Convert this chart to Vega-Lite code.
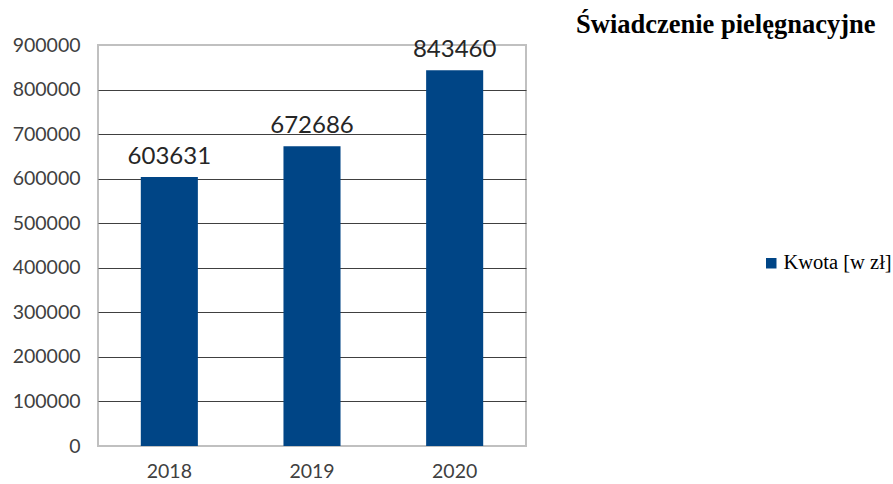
{
  "$schema": "https://vega.github.io/schema/vega-lite/v6.json",
  "width": 428,
  "height": 401,
  "autosize": {"type": "none"},
  "padding": {"left": 98, "top": 45, "right": 367, "bottom": 38},
  "background": "white",
  "config": {
    "view": {"stroke": "#c0c0c0", "strokeWidth": 2},
    "axis": {"labelFont": "Lato", "labelColor": "#404040", "ticks": false, "domain": false, "title": null}
  },
  "title": {
    "text": "Świadczenie pielęgnacyjne",
    "anchor": "start",
    "frame": "group",
    "dx": 478,
    "dy": 11,
    "offset": 8,
    "font": "Liberation Serif",
    "fontSize": 26.5,
    "fontWeight": "bold",
    "color": "black"
  },
  "data": {
    "values": [
      {"rok": "2018", "kwota": 603631, "seria": "Kwota [w zł]"},
      {"rok": "2019", "kwota": 672686, "seria": "Kwota [w zł]"},
      {"rok": "2020", "kwota": 843460, "seria": "Kwota [w zł]"}
    ]
  },
  "encoding": {
    "x": {
      "field": "rok",
      "type": "nominal",
      "scale": {"paddingInner": 0.6, "paddingOuter": 0.3},
      "axis": {"labelAngle": 0, "labelFontSize": 19.5, "labelPadding": 16}
    },
    "y": {
      "field": "kwota",
      "type": "quantitative",
      "scale": {"domain": [0, 900000], "nice": false},
      "axis": {
        "values": [0, 100000, 200000, 300000, 400000, 500000, 600000, 700000, 800000, 900000],
        "format": "d",
        "labelFontSize": 19.5,
        "labelPadding": 18,
        "grid": true,
        "gridColor": {"condition": {"test": "datum.value == 0 || datum.value == 900000", "value": "#c0c0c0"}, "value": "#404040"},
        "gridWidth": 1.2
      }
    }
  },
  "layer": [
    {
      "mark": {"type": "bar", "color": "#004586"},
      "encoding": {
        "color": {
          "field": "seria",
          "type": "nominal",
          "scale": {"range": ["#004586"]},
          "legend": {
            "title": null,
            "orient": "none",
            "legendX": 663,
            "legendY": 208,
            "symbolType": "square",
            "symbolSize": 110,
            "symbolStrokeWidth": 0,
            "labelFont": "Liberation Serif",
            "labelFontSize": 20.5,
            "labelColor": "black",
            "labelOffset": 2,
            "labelLimit": 200
          }
        }
      }
    },
    {
      "mark": {"type": "text", "baseline": "bottom", "dy": -8, "font": "Lato", "fontSize": 24, "color": "#262626"},
      "encoding": {"text": {"field": "kwota", "type": "quantitative", "format": "d"}}
    }
  ]
}
